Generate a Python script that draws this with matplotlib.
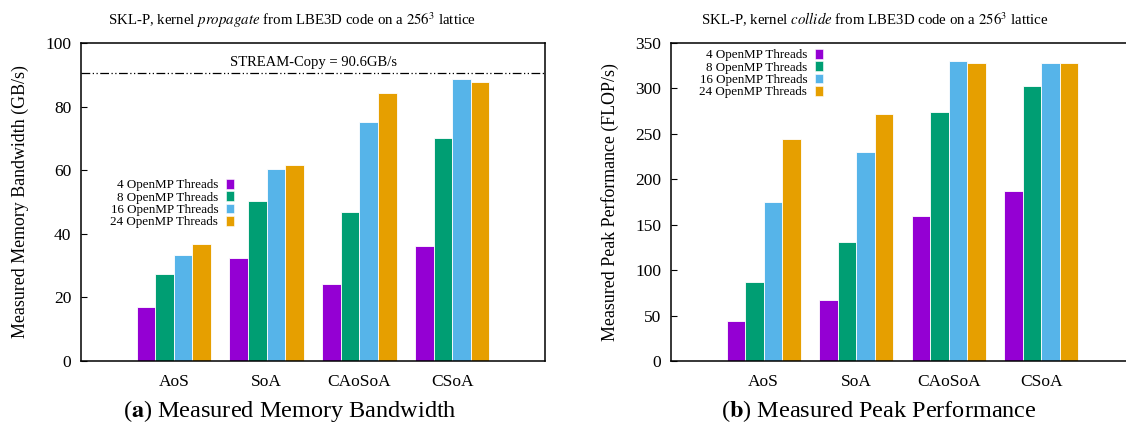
import matplotlib
matplotlib.use("Agg")
import matplotlib.pyplot as plt
import numpy as np
from matplotlib.patches import Patch

categories = ["AoS", "SoA", "CAoSoA", "CSoA"]
series_labels = ["4 OpenMP Threads", "8 OpenMP Threads", "16 OpenMP Threads", "24 OpenMP Threads"]
colors = ["#9400d3", "#009e73", "#56b4e9", "#e69f00"]

bandwidth_4 = [17.0, 32.4, 24.1, 36.3]
bandwidth_8 = [27.5, 50.2, 47.0, 70.1]
bandwidth_16 = [33.2, 60.5, 75.1, 88.6]
bandwidth_24 = [36.7, 61.7, 84.2, 87.6]
stream_copy = 90.6

flops_4 = [43.9, 66.6, 159.8, 187.3]
flops_8 = [87.4, 130.6, 274.3, 302.8]
flops_16 = [175.2, 229.7, 330.0, 328.0]
flops_24 = [244.3, 272.1, 328.0, 328.0]

plt.rcParams['font.family'] = ['Liberation Serif', 'DejaVu Serif']
plt.rcParams['mathtext.fontset'] = 'stix'

fig = plt.figure(figsize=(11.26, 4.32), dpi=100)
W, H = 1126, 432

def px_axes(x0, x1, y0, y1):
    return fig.add_axes([x0 / W, 1 - y1 / H, (x1 - x0) / W, (y1 - y0) / H])

ax1 = px_axes(81, 545, 43, 361)
ax2 = px_axes(671, 671 + 5 * 92.6, 43, 361)

bw = 0.2
offsets = [-0.3, -0.1, 0.1, 0.3]

def draw(ax, series, ymax, yticks, ylabel):
    x = np.arange(len(categories))
    for vals, off, c in zip(series, offsets, colors):
        ax.bar(x + off, vals, width=bw, color=c, edgecolor='white', linewidth=0.6, zorder=2)
    ax.set_xlim(-1, 4)
    ax.set_ylim(0, ymax)
    ax.set_xticks(x)
    ax.set_xticklabels(categories, fontsize=12.5)
    ax.set_yticks(yticks)
    ax.tick_params(axis='y', labelsize=12.5, direction='in', length=4, width=0.8, pad=7)
    ax.tick_params(axis='x', length=0, pad=9)
    ax.set_ylabel(ylabel, fontsize=12.9, labelpad=12)
    for s in ax.spines.values():
        s.set_linewidth(1.1)

draw(ax1, [bandwidth_4, bandwidth_8, bandwidth_16, bandwidth_24], 100, [0, 20, 40, 60, 80, 100],
     "Measured Memory Bandwidth (GB/s)")
draw(ax2, [flops_4, flops_8, flops_16, flops_24], 350, [0, 50, 100, 150, 200, 250, 300, 350],
     "Measured Peak Performance (FLOP/s)")

ax1.axhline(stream_copy, color='black', linewidth=0.9, linestyle=(0, (7, 2, 1, 2, 1, 2)), zorder=3)
ax1.text(1.5, stream_copy + 1.3, "STREAM-Copy = 90.6GB/s", ha='center', va='bottom', fontsize=10.5)

fig.text(292 / W, 1 - 20 / H, r"SKL-P, kernel $\mathit{propagate}$ from LBE3D code on a $256^3$ lattice",
         ha='center', va='center', fontsize=10.7)
fig.text(875 / W, 1 - 20 / H, r"SKL-P, kernel $\mathit{collide}$ from LBE3D code on a $256^3$ lattice",
         ha='center', va='center', fontsize=10.7)

handles = [Patch(facecolor=c, edgecolor='white', linewidth=0.4) for c in colors]
leg_kw = dict(frameon=False, markerfirst=False, fontsize=9.4, handlelength=0.6, handleheight=0.75,
              handletextpad=0.6, labelspacing=0.0, borderpad=0, borderaxespad=0)
ax1.legend(handles, series_labels, loc='upper right',
           bbox_to_anchor=((234 - 81) / (545 - 81), 1 - (179 - 43) / 318), **leg_kw)
ax2.legend(handles, series_labels, loc='upper right',
           bbox_to_anchor=((823 - 671) / (5 * 92.6), 1 - (49 - 43) / 318), **leg_kw)

fig.text(290 / W, 1 - 411 / H, r"($\mathbf{a}$) Measured Memory Bandwidth", ha='center', va='center', fontsize=17.5)
fig.text(879 / W, 1 - 411 / H, r"($\mathbf{b}$) Measured Peak Performance", ha='center', va='center', fontsize=17.5)

fig.savefig("out.png", dpi=100)
